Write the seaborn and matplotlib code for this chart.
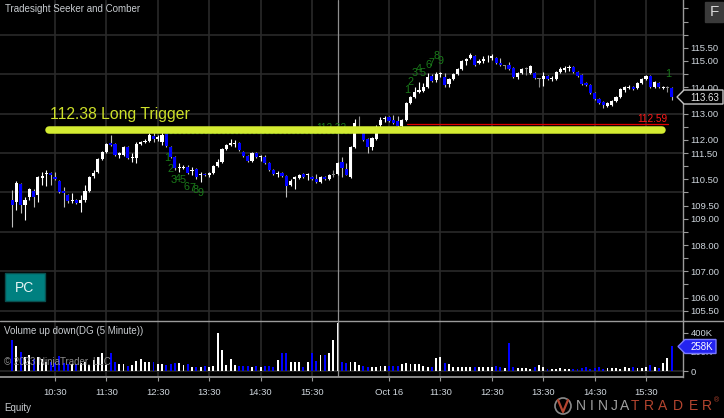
import numpy as np
import pandas as pd
import seaborn as sns
import matplotlib
matplotlib.use("Agg")
import matplotlib.pyplot as plt
from matplotlib.patches import Polygon, Rectangle, Circle
from matplotlib.lines import Line2D
from matplotlib.transforms import Affine2D

W, H = 724, 418

# 5 minute bars: Oct 13 session, then Oct 16 session
d1_open = [109.71, 109.64, 110.32, 109.52, 109.83, 110.06, 109.90, 110.55, 110.70, 110.74,
           110.59, 110.44, 110.06, 109.90, 109.68, 109.71, 109.60, 109.71, 110.06, 110.63,
           110.78, 111.27, 111.54, 111.88, 111.84, 111.43, 111.43, 111.73, 111.31, 111.31,
           111.84, 111.92, 111.96, 112.15, 112.03, 111.92, 112.22, 111.73, 111.35, 110.93,
           110.93, 110.97, 110.82, 110.90, 110.67, 110.70, 110.67, 110.74, 111.00, 111.16,
           111.65, 111.81, 111.84, 111.88, 111.54, 111.39, 111.19, 111.50, 111.35, 111.35,
           111.12, 110.86, 110.70, 110.74, 110.63, 110.28, 110.51, 110.55, 110.70, 110.65,
           110.59, 110.51, 110.40, 110.59, 110.51, 110.67, 110.70]
d1_close = [109.52, 110.36, 109.52, 109.71, 110.13, 109.83, 110.59, 110.63, 110.74, 110.67,
            110.51, 110.02, 109.98, 109.68, 109.71, 109.60, 109.71, 110.06, 110.59, 110.74,
            111.27, 111.54, 111.84, 111.81, 111.43, 111.50, 111.73, 111.31, 111.35, 111.84,
            111.92, 111.96, 112.19, 112.03, 112.11, 112.19, 111.77, 111.35, 110.93, 110.97,
            110.97, 110.74, 110.86, 110.59, 110.70, 110.67, 110.74, 111.00, 111.16, 111.65,
            111.81, 111.88, 111.88, 111.61, 111.39, 111.19, 111.50, 111.35, 111.39, 111.12,
            110.86, 110.70, 110.74, 110.63, 110.25, 110.44, 110.59, 110.67, 110.59, 110.67,
            110.51, 110.40, 110.59, 110.51, 110.67, 110.67, 111.12]
d1_high = [110.10, 110.44, 110.36, 109.83, 110.17, 110.13, 110.63, 110.78, 110.86, 110.78,
           110.78, 110.48, 110.21, 109.94, 109.98, 109.75, 109.90, 110.28, 110.63, 110.86,
           111.31, 111.58, 111.88, 112.19, 111.88, 111.54, 111.77, 111.77, 111.50, 111.92,
           111.96, 112.03, 112.26, 112.30, 112.19, 112.34, 112.26, 111.77, 111.40, 111.12,
           111.04, 111.04, 110.97, 110.93, 110.78, 110.74, 110.78, 111.04, 111.27, 111.69,
           111.84, 112.03, 111.99, 111.92, 111.58, 111.43, 111.54, 111.54, 111.43, 111.43,
           111.16, 110.90, 110.82, 110.78, 110.67, 110.51, 110.63, 110.70, 110.74, 110.74,
           110.63, 110.70, 110.63, 110.63, 110.70, 110.86, 111.16]
d1_low = [108.69, 109.33, 109.22, 108.95, 109.71, 109.45, 109.64, 110.28, 110.25, 110.28,
          110.48, 109.98, 109.45, 109.60, 109.60, 109.56, 109.26, 109.64, 110.02, 110.55,
          110.74, 111.23, 111.50, 111.77, 111.40, 111.31, 111.40, 111.27, 111.16, 111.12,
          111.80, 111.88, 111.92, 111.92, 111.96, 111.80, 111.73, 111.31, 110.86, 110.78,
          110.90, 110.70, 110.67, 110.51, 110.40, 110.63, 110.59, 110.70, 110.97, 111.12,
          111.61, 111.77, 111.73, 111.58, 111.35, 111.16, 111.16, 111.31, 111.19, 111.08,
          110.82, 110.67, 110.59, 110.59, 109.83, 110.25, 110.13, 110.51, 110.55, 110.48,
          110.48, 110.36, 110.36, 110.48, 110.48, 110.59, 110.67]
d1_volume_k = [326, 266, 200, 150, 165, 130, 150, 130, 100, 90, 80, 160, 80, 75, 70, 70, 80, 90,
               65, 115, 145, 185, 60, 190, 100, 75, 75, 55, 65, 105, 130, 100, 90, 90, 75, 75,
               65, 75, 80, 80, 65, 75, 45, 40, 45, 55, 45, 50, 400, 225, 60, 130, 60, 55, 55,
               55, 45, 50, 45, 50, 50, 40, 115, 190, 185, 90, 90, 90, 40, 100, 185, 110, 165,
               165, 185, 330, 500]

d2_open = [111.16, 110.90, 110.59, 111.73, 112.45, 112.30, 112.03, 111.73, 112.03, 112.57,
           112.80, 112.87, 112.76, 112.72, 112.53, 112.76, 113.40, 113.63, 113.82, 113.86,
           114.01, 114.43, 114.28, 114.50, 114.39, 114.13, 114.32, 114.50, 114.69, 115.00,
           115.11, 115.19, 114.92, 115.00, 115.02, 115.11, 115.11, 114.92, 114.80, 114.85,
           114.73, 114.39, 114.54, 114.70, 114.54, 114.54, 114.30, 114.32, 114.43, 114.32,
           114.32, 114.58, 114.66, 114.73, 114.77, 114.58, 114.47, 114.16, 114.09, 113.78,
           113.56, 113.44, 113.29, 113.33, 113.48, 113.63, 113.90, 113.99, 114.01, 113.97,
           114.16, 114.32, 114.43, 114.01, 114.16, 113.99, 113.97, 113.97]
d2_close = [110.93, 110.67, 111.73, 112.64, 112.45, 111.99, 111.73, 112.07, 112.45, 112.76,
            112.83, 112.72, 112.64, 112.53, 112.76, 113.40, 113.63, 113.82, 113.90, 114.01,
            114.39, 114.24, 114.50, 114.54, 114.09, 114.32, 114.50, 114.69, 115.00, 115.08,
            115.23, 114.85, 115.00, 115.08, 115.04, 115.19, 114.92, 114.85, 114.80, 114.69,
            114.39, 114.54, 114.69, 114.70, 114.81, 114.35, 114.30, 114.43, 114.32, 114.35,
            114.58, 114.69, 114.73, 114.77, 114.58, 114.43, 114.13, 114.09, 113.78, 113.56,
            113.40, 113.33, 113.40, 113.48, 113.63, 113.94, 114.01, 114.01, 113.94, 114.16,
            114.32, 114.43, 114.01, 114.20, 114.01, 114.01, 113.97, 113.63]
d2_high = [111.35, 111.12, 111.77, 112.80, 112.91, 112.34, 112.07, 112.11, 112.57, 112.87,
           112.91, 112.91, 112.95, 112.91, 112.80, 113.44, 113.67, 114.01, 114.20, 114.16,
           114.54, 114.50, 114.58, 114.58, 114.54, 114.35, 114.54, 114.73, 115.04, 115.11,
           115.30, 115.23, 115.08, 115.19, 115.23, 115.27, 115.15, 115.11, 114.85, 114.96,
           114.77, 114.58, 114.73, 114.77, 114.85, 114.58, 114.35, 114.58, 114.47, 114.43,
           114.62, 114.77, 114.81, 114.85, 114.81, 114.62, 114.50, 114.20, 114.13, 113.82,
           113.59, 113.48, 113.44, 113.52, 113.67, 113.97, 114.05, 114.09, 114.05, 114.20,
           114.35, 114.47, 114.47, 114.24, 114.20, 114.05, 114.05, 114.01]
d2_low = [110.59, 110.67, 110.55, 111.69, 112.40, 111.96, 111.50, 111.61, 111.99, 112.45,
          112.68, 112.68, 112.60, 112.49, 112.49, 112.72, 113.36, 113.59, 113.78, 113.82,
          113.97, 114.20, 114.20, 114.39, 114.01, 114.01, 114.28, 114.47, 114.66, 114.85,
          115.08, 114.81, 114.89, 114.92, 114.96, 115.04, 114.89, 114.81, 114.69, 114.66,
          114.35, 114.32, 114.50, 114.47, 114.50, 114.32, 114.01, 114.05, 114.28, 114.24,
          114.28, 114.54, 114.58, 114.62, 114.54, 114.39, 114.09, 114.05, 113.74, 113.52,
          113.36, 113.21, 113.25, 113.29, 113.44, 113.59, 113.82, 113.94, 113.90, 113.94,
          114.13, 114.28, 113.97, 113.97, 113.97, 113.94, 113.82, 113.52]
d2_volume_k = [100, 80, 90, 90, 60,
               53, 46, 46, 46, 53, 53, 53, 53, 53,
               74, 88, 74, 74, 74, 53, 46, 39,
               133, 144, 81, 74,
               46, 39, 39, 46, 46, 46, 39, 39, 39, 39,
               53, 39, 28, 298, 39, 28, 28, 28, 18, 39,
               63, 39, 18, 25, 25, 28, 18, 18, 18, 18,
               28, 39, 25, 28, 39, 18, 28, 28, 28, 25,
               39, 28, 39, 28, 28, 39, 63, 46, 35, 88,
               133, 258]

time_ticks = [12, 24, 36, 48, 60, 72, 90, 102, 114, 126, 138, 150]
time_labels = ["10:30", "11:30", "12:30", "13:30", "14:30", "15:30",
               "Oct 16", "11:30", "12:30", "13:30", "14:30", "15:30"]
price_labels = [115.5, 115.0, 114.0, 113.0, 112.0, 111.5, 110.5, 109.5, 109.0,
                108.0, 107.0, 106.0, 105.5]
session_break = 78

trigger = 112.38
trigger_span = (10.6, 153.7)
target = 112.59
target_span = (94.2, 155.1)
entry = 112.26
entry_span = (37.7, 81.6)

count1_bars = [38.2, 38.9, 39.8, 40.7, 41.7, 42.8, 44.0, 44.9, 45.9]
count1_prices = [111.31, 110.89, 110.48, 110.51, 110.48, 110.21, 110.17, 110.09, 109.98]
count2_bars = [94.2, 95.1, 96.0, 97.0, 97.9, 99.1, 100.0, 101.2, 102.1]
count2_prices = [113.90, 114.20, 114.54, 114.69, 114.54, 114.85, 114.92, 115.19, 115.00]
count3_bars = [155.1]
count3_prices = [114.51]

opens = np.array(d1_open + d2_open)
closes = np.array(d1_close + d2_close)
highs = np.array(d1_high + d2_high)
lows = np.array(d1_low + d2_low)
volume = np.array(d1_volume_k + d2_volume_k) * 1000.0
bars = np.arange(2, 2 + len(opens))
last_price = closes[-1]
last_volume = volume[-1]

sns.set_theme(style="dark", rc={"axes.facecolor": "black", "figure.facecolor": "black"})
plt.rcParams["font.family"] = ["Liberation Sans", "DejaVu Sans"]

grid_col = "#2a2a2a"
axis_col = "#9a9a9a"
label_col = "#cfd6dd"

fig = plt.figure(figsize=(W / 100, H / 100), dpi=100, facecolor="black")
ax = fig.add_axes([0, 1 - 321 / H, 683 / W, 321 / H])
vax = fig.add_axes([0, 1 - 377 / H, 683 / W, 56 / H])
px = Affine2D().scale(1 / W, -1 / H).translate(0, 1) + fig.transFigure

# candles
down = closes < opens
doji = np.isclose(closes, opens)
body_col = np.where(doji, "#8c8c8c", np.where(down, "#0000ff", "#ffffff"))
wick_col = np.where(doji, "#8c8c8c", np.where(down, "#bdbdbd", "#ffffff"))
ax.vlines(bars, lows, highs, colors=wick_col, lw=0.8, zorder=3)
ax.bar(bars, np.maximum(np.abs(closes - opens), 0.035), bottom=np.minimum(opens, closes),
       width=0.74, color=body_col, lw=0, zorder=4)

# volume up / down
vdf = pd.DataFrame({"bar": bars, "volume": volume, "side": np.where(down, "down", "up")})
sns.barplot(data=vdf, x="bar", y="volume", hue="side",
            palette={"up": "#ffffff", "down": "#0000ff"}, native_scale=True,
            dodge=False, width=0.45, saturation=1, errorbar=None, legend=False,
            linewidth=0, ax=vax)
vax.set_xlabel("")
vax.set_ylabel("")

for a in (ax, vax):
    a.set_facecolor("black")
    a.set_xlim(-0.84, 158.63)
    for s in ("left", "top", "bottom"):
        a.spines[s].set_visible(False)
    a.spines["right"].set_color(axis_col)
    a.spines["right"].set_linewidth(1)
    a.set_xticks(time_ticks)
    a.grid(True, axis="x", color=grid_col, lw=1.2)
    a.grid(False, axis="y")
    a.set_axisbelow(True)
    a.axvline(session_break, color="#8f8f8f", lw=0.9, zorder=2)
    a.yaxis.tick_right()
    a.tick_params(axis="y", colors=axis_col, labelcolor=label_col, length=3.6,
                  width=0.8, pad=2, labelsize=6.8)

ax.tick_params(axis="x", length=0, labelbottom=False)
vax.spines["bottom"].set_visible(True)
vax.spines["bottom"].set_color(axis_col)
vax.set_xticklabels(time_labels)
vax.tick_params(axis="x", colors=axis_col, labelcolor=label_col, length=3, width=0.8,
                pad=5, labelsize=6.8, bottom=True)

# price axis
ax.set_ylim(105.11, 117.32)
ticks = np.arange(105.5, 117.01, 0.5)
ax.set_yticks(ticks)
ax.set_yticklabels([f"{t:.2f}" if round(t, 2) in price_labels else "" for t in ticks])
for lvl in np.arange(105.5, 117.4, 1.5):
    ax.axhline(lvl, color=grid_col, lw=1.2, zorder=0.5)

vax.set_ylim(-63000, 526000)
vax.set_yticks([0, 200000, 400000])
vax.set_yticklabels(["0", "200K", "400K"])
vax.axhline(0, color=grid_col, lw=1.2, zorder=0.5)

# panel separator
fig.add_artist(Line2D([0, W], [321, 321], transform=px, color=axis_col, lw=1))

# trade levels
ax.plot(trigger_span, [trigger, trigger], color="#d4ec32", lw=5.4,
        solid_capstyle="round", zorder=6)
ax.plot(target_span, [target, target], color="#e00000", lw=0.9, zorder=5)
ax.plot(entry_span, [entry, entry], color="#1a6a1a", lw=0.9, ls=(0, (2, 1.5)), zorder=5)
ax.text(target_span[1], target + 0.03, f"{target:.2f}", color="#ff1a1a", fontsize=7.2,
        ha="right", va="bottom", zorder=7)
ax.text(entry_span[1] - 1.5, trigger + 0.08, "112.32", color="#1a7a1a", fontsize=7.2,
        ha="right", va="center", zorder=5)
fig.text(50, 114, f"{trigger:.2f} Long Trigger", transform=px, color="#cde02a",
         fontsize=11.3, ha="left", va="center")

# setup count digits
for bx, py in ((count1_bars, count1_prices), (count2_bars, count2_prices),
               (count3_bars, count3_prices)):
    for i, (b, p) in enumerate(zip(bx, py)):
        ax.text(b, p, str(i + 1), color="#1a7a1a", fontsize=7.8, ha="center",
                va="center", zorder=7)

# labels
fig.text(5, 9, "Tradesight Seeker and Comber", transform=px, color="#c8ccd0",
         fontsize=7, va="center")
fig.text(4, 331, "Volume up down(DG (5 Minute))", transform=px, color="#c8ccd0",
         fontsize=7, va="center")
fig.text(4, 362, "\u00a9 2023 NinjaTrader, LLC", transform=px, color="#8c8c8c",
         fontsize=7, va="center", zorder=5)
fig.text(4, 408, "Equity", transform=px, color="#c8ccd0", fontsize=7, va="center")

fig.add_artist(Rectangle((5, 273), 40, 28, transform=px, fc="#008080", ec="#0a4f4f", lw=1))
fig.text(25, 287.5, "PC", transform=px, color="#e6f4f4", fontsize=10, ha="center",
         va="center")
fig.add_artist(Rectangle((705, 2), 18, 20, transform=px, fc="#3a3a3a", ec="#3a3a3a"))
fig.text(714, 12.5, "F", transform=px, color="#d8d8d8", fontsize=11, ha="center",
         va="center")


def value_flag(axis, value, text, fc, ec, tc, x0, x1):
    y = H - axis.transData.transform((0, value))[1]
    pts = [(x0 - 7, y), (x0, y - 7), (x1, y - 7), (x1, y + 7), (x0, y + 7)]
    fig.add_artist(Polygon(pts, closed=True, transform=px, fc=fc, ec=ec, lw=1, zorder=5))
    fig.text((x0 + x1) / 2 + 1, y + 0.5, text, transform=px, color=tc, fontsize=7,
             ha="center", va="center", zorder=6)


value_flag(ax, last_price, f"{last_price:.2f}", "black", "#c8c8c8", "#e6e6e6", 684, 723)
value_flag(vax, last_volume, f"{last_volume / 1000:.0f}K", "#2323f0", "#7a7aff",
           "#ffffff", 685, 716)

# vendor mark
fig.add_artist(Circle((563, 406), 8, transform=px, fill=False, ec="#8a8a8a", lw=1.2))
fig.add_artist(Line2D([558, 563, 568], [400, 412, 400], transform=px, color="#b5452f", lw=1.6))
for ch, x in zip("NINJA", [581, 592, 603, 614, 625]):
    fig.text(x, 406, ch, transform=px, color="#a0a0a0", fontsize=10, ha="center", va="center")
for ch, x in zip("TRADER", [635, 649, 663, 678, 693, 707]):
    fig.text(x, 406, ch, transform=px, color="#b5452f", fontsize=10, ha="center", va="center")
fig.text(717, 401, "\u00ae", transform=px, color="#b5452f", fontsize=5, ha="center",
         va="center")

fig.savefig("out.png", dpi=100, facecolor="black")
